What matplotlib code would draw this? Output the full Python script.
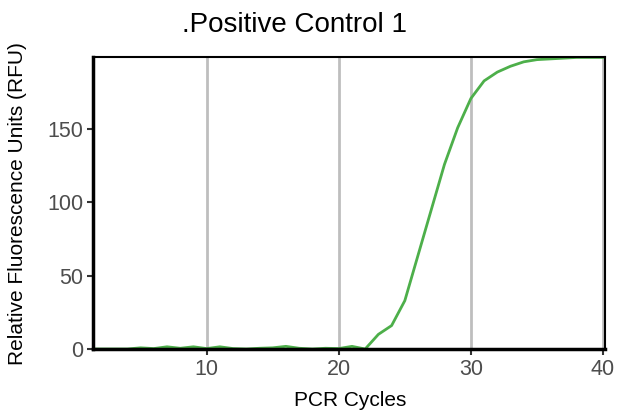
import numpy as np
import matplotlib.pyplot as plt

plt.rcParams['font.family'] = ['Liberation Sans', 'DejaVu Sans']

# PCR cycles and fluorescence readings
cycles = np.arange(1, 41)
rfu = [0, 0, 0, 0, 0.8, 0.3, 1.5, 0.5, 1.5, 0.3,
       1.5, 0.3, 0, 0.5, 0.8, 1.8, 0.5, 0, 0.5, 0.3,
       1.8, 0, 10, 16, 33, 64, 95, 126, 151, 171,
       183, 189, 193, 196, 197.5, 198, 198.5, 199, 199, 199]

x_ticks = [10, 20, 30, 40]
y_ticks = [0, 50, 100, 150]

W, H = 618, 415
fig = plt.figure(figsize=(W / 100, H / 100), dpi=100)
ax = fig.add_axes([93 / W, 1 - 349 / H, (605 - 93) / W, (349 - 57) / H])

for xt in x_ticks:
    ax.axvline(xt, color='#BEBEBE', lw=2, zorder=0)

ax.plot(cycles, rfu, color='#4DAF4A', lw=2, zorder=2)

ax.set_xlim(1.4, 40.15)
ax.set_ylim(0, 199.3)
ax.set_xticks(x_ticks)
ax.set_yticks(y_ticks)
ax.tick_params(axis='both', labelsize=15.5, colors='#333333', labelcolor='#4D4D4D',
               length=4, width=1.5, pad=3)

for side in ['left', 'bottom']:
    ax.spines[side].set_linewidth(2.5)
for side in ['top', 'right']:
    ax.spines[side].set_linewidth(1.5)
for s in ax.spines.values():
    s.set_color('black')
    s.set_zorder(3)

fig.text(350 / W, 1 - 400 / H, 'PCR Cycles', fontsize=15, ha='center', va='center')
fig.text(18 / W, 1 - 204 / H, 'Relative Fluorescence Units (RFU)', fontsize=15,
         rotation=90, ha='center', va='center')
fig.text(294 / W, 1 - 25 / H, '.Positive Control 1', fontsize=20,
         ha='center', va='center')

fig.savefig('out.png', dpi=100)
